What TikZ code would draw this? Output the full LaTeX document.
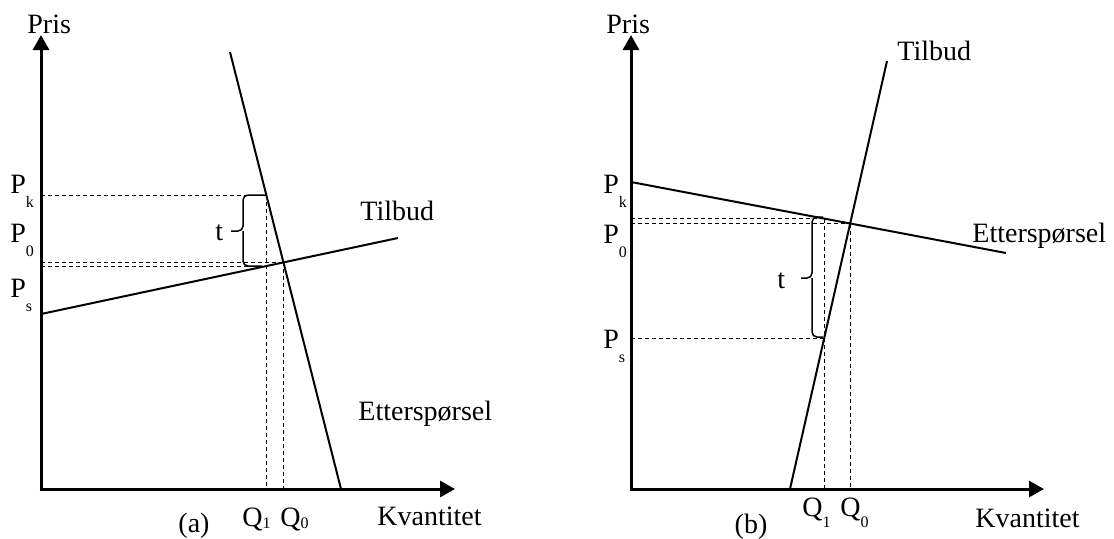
\documentclass[tikz,border=0pt]{standalone}
\usepackage{fontspec}
\setmainfont{Liberation Serif}
\usetikzlibrary{arrows.meta}

\newcommand{\lowsub}[2][7pt]{\raisebox{-#1}{\fontsize{8}{8}\selectfont #2}}

\begin{document}
\begin{tikzpicture}[x=0.5pt, y=-0.5pt,
    axis/.style={line width=1.5pt, -{Triangle[length=7.5pt, width=8pt]}},
    curve/.style={line width=1pt},
    guide/.style={line width=0.5pt, dash pattern=on 2pt off 1.5pt},
    brace/.style={line width=0.75pt, rounded corners=2.5pt},
    lbl/.style={anchor=base west, inner sep=0pt, font=\fontsize{14}{16}\selectfont}]
    \useasboundingbox (0,0) rectangle (1114,538);

    % (a) left diagram
    \coordinate (O1) at (41,489);
    \coordinate (Y1) at (41,35);
    \coordinate (X1) at (455,489);
    \coordinate (D1a) at (230,52);
    \coordinate (D1b) at (341,489);
    \coordinate (S1a) at (41,314);
    \coordinate (S1b) at (398,238);
    \coordinate (E1) at (intersection of D1a--D1b and S1a--S1b);
    \coordinate (K1) at (266.3,195);
    \coordinate (R1) at (266.3,266);

    \draw[axis] (41,490.5) -- (Y1);
    \draw[axis] (39.5,489) -- (X1);
    \draw[curve] (D1a) -- (D1b);
    \draw[curve] (S1a) -- (S1b);

    \draw[guide] (O1 |- K1) -- (K1);
    \draw[guide] (O1 |- E1) -- (E1);
    \draw[guide] (O1 |- R1) -- (R1);
    \draw[guide] (K1) -- (K1 |- O1);
    \draw[guide] (E1) -- (E1 |- O1);

    \coordinate (T1m) at (243,231);
    \draw[brace] (265,195) -| (T1m) -- (231,231);
    \draw[brace] (262,266) -| (T1m);

    \node[lbl] (prisA) at (27,33) {Pris};
    \node[lbl] (pkA) at (10,193) {P\lowsub{k}};
    \node[lbl] (p0A) at (10,242) {P\lowsub{0}};
    \node[lbl] (psA) at (10,297) {P\lowsub{s}};
    \node[lbl] (tA) at (215,240) {t};
    \node[lbl] (tilbudA) at (360,220) {Tilbud};
    \node[lbl] (ettA) at (358,420) {Etterspørsel};
    \node[lbl] (q1A) at (242,526) {Q\lowsub[1pt]{1}};
    \node[lbl] (q0A) at (280,526) {Q\lowsub[1pt]{0}};
    \node[lbl, anchor=base] (capA) at (194,532) {(a)};
    \node[lbl] (kvA) at (377,525) {Kvantitet};

    % (b) right diagram
    \coordinate (O2) at (631,489);
    \coordinate (Y2) at (631,35);
    \coordinate (X2) at (1044,489);
    \coordinate (D2a) at (631,182);
    \coordinate (D2b) at (1006,253);
    \coordinate (S2a) at (887,61);
    \coordinate (S2b) at (790,489);
    \coordinate (E2) at (intersection of D2a--D2b and S2a--S2b);
    \coordinate (K2) at (824,218.5);
    \coordinate (R2) at (824,338);

    \draw[axis] (631,490.5) -- (Y2);
    \draw[axis] (629.5,489) -- (X2);
    \draw[curve] (D2a) -- (D2b);
    \draw[curve] (S2a) -- (S2b);

    \draw[guide] (O2 |- K2) -- (K2);
    \draw[guide] (O2 |- E2) -- (E2);
    \draw[guide] (O2 |- R2) -- (R2);
    \draw[guide] (K2) -- (K2 |- O2);
    \draw[guide] (E2) -- (E2 |- O2);

    \coordinate (T2m) at (812,278);
    \draw[brace] (823,217) -| (T2m) -- (801,278);
    \draw[brace] (823,337) -| (T2m);

    \node[lbl] (prisB) at (606,33) {Pris};
    \node[lbl] (pkB) at (603,193) {P\lowsub{k}};
    \node[lbl] (p0B) at (603,243) {P\lowsub{0}};
    \node[lbl] (psB) at (603,348) {P\lowsub{s}};
    \node[lbl] (tB) at (777,288) {t};
    \node[lbl] (tilbudB) at (897,60) {Tilbud};
    \node[lbl] (ettB) at (972,242) {Etterspørsel};
    \node[lbl] (q1B) at (802,516) {Q\lowsub[5.5pt]{1}};
    \node[lbl] (q0B) at (840,516) {Q\lowsub[5.5pt]{0}};
    \node[lbl, anchor=base] (capB) at (751,533) {(b)};
    \node[lbl] (kvB) at (975,527) {Kvantitet};
\end{tikzpicture}
\end{document}
